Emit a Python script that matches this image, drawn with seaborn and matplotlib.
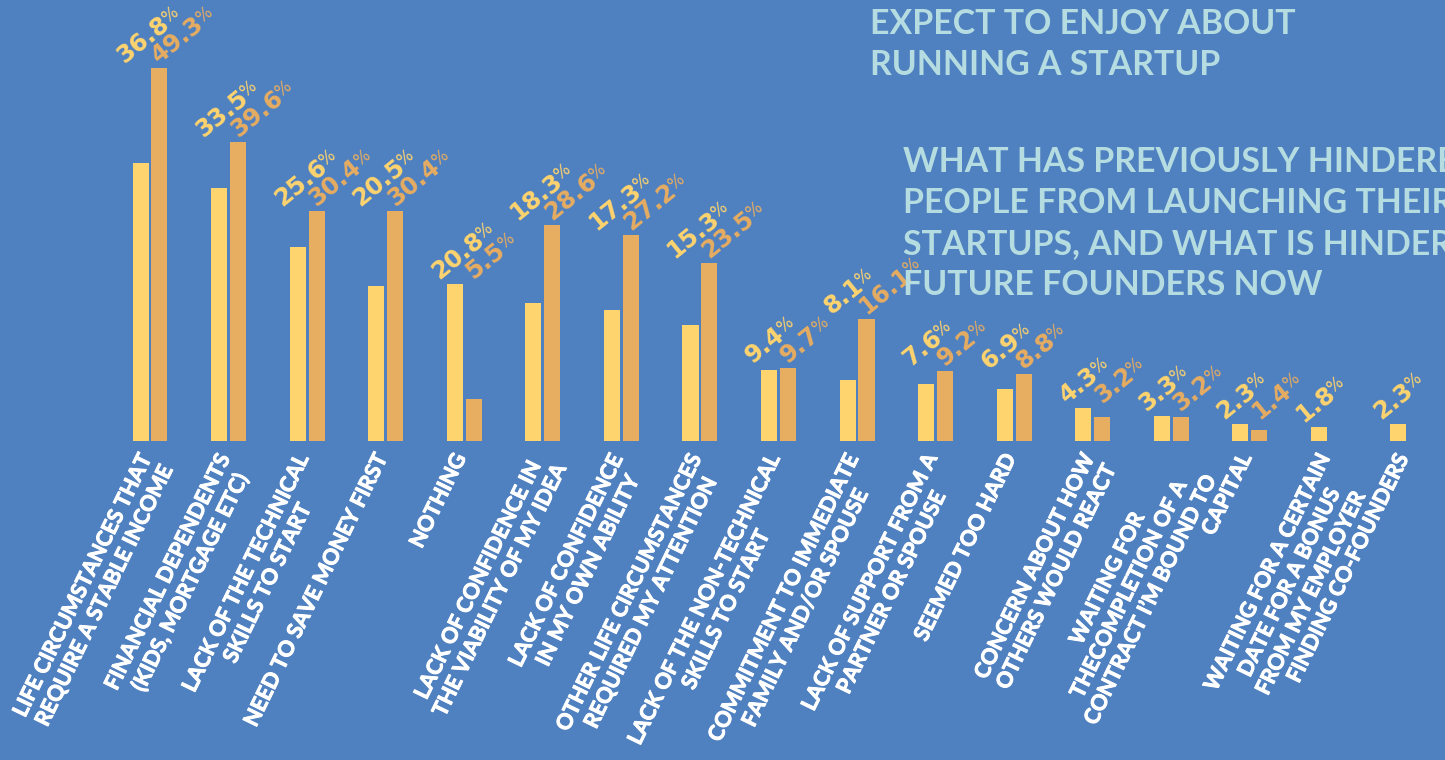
import math

import matplotlib
matplotlib.use("Agg")
import matplotlib.pyplot as plt
import matplotlib.patheffects as pe
import pandas as pd
import seaborn as sns
from matplotlib.font_manager import FontProperties
from matplotlib.textpath import TextToPath
from matplotlib.transforms import offset_copy

# Survey answers: what held founders back before, and what holds future founders back now
reasons = [
    "LIFE CIRCUMSTANCES THAT\nREQUIRE A STABLE INCOME",
    "FINANCIAL DEPENDENTS\n(KIDS, MORTGAGE ETC)",
    "LACK OF THE TECHNICAL\nSKILLS TO START",
    "NEED TO SAVE MONEY FIRST",
    "NOTHING",
    "LACK OF CONFIDENCE IN\nTHE VIABILITY OF MY IDEA",
    "LACK OF CONFIDENCE\nIN MY OWN ABILITY",
    "OTHER LIFE CIRCUMSTANCES\nREQUIRED MY ATTENTION",
    "LACK OF THE NON-TECHNICAL\nSKILLS TO START",
    "COMMITMENT TO IMMEDIATE\nFAMILY AND/OR SPOUSE",
    "LACK OF SUPPORT FROM A\nPARTNER OR SPOUSE",
    "SEEMED TOO HARD",
    "CONCERN ABOUT HOW\nOTHERS WOULD REACT",
    "WAITING FOR\nTHECOMPLETION OF A\nCONTRACT I\u2019M BOUND TO",
    "CAPITAL",
    "WAITING FOR A CERTAIN\nDATE FOR A BONUS\nFROM MY EMPLOYER",
    "FINDING CO-FOUNDERS",
]
founders = [36.8, 33.5, 25.6, 20.5, 20.8, 18.3, 17.3, 15.3, 9.4, 8.1, 7.6, 6.9, 4.3, 3.3, 2.3, 1.8, 2.3]
future_founders = [49.3, 39.6, 30.4, 30.4, 5.5, 28.6, 27.2, 23.5, 9.7, 16.1, 9.2, 8.8, 3.2, 3.2, 1.4, None, None]
groups = ["Founders", "Future founders"]

title_top = "EXPECT TO ENJOY ABOUT\nRUNNING A STARTUP"
title_main = ("WHAT HAS PREVIOUSLY HINDERED\nPEOPLE FROM LAUNCHING THEIR\n"
              "STARTUPS, AND WHAT IS HINDERING\nFUTURE FOUNDERS NOW")

BG = "#4F80C0"
YELLOW = "#FED46E"
ORANGE = "#E7AD61"
TITLE = "#B5DCE0"

sns.set_theme(style="white", rc={"axes.facecolor": BG, "figure.facecolor": BG})
plt.rcParams["font.family"] = ["Lato", "DejaVu Sans"]

rows = []
for reason, a, b in zip(reasons, founders, future_founders):
    rows.append((reason, groups[0], a))
    if b is not None:
        rows.append((reason, groups[1], b))
df = pd.DataFrame(rows, columns=["reason", "group", "share"])

W, H = 1445, 760
fig = plt.figure(figsize=(W / 100, H / 100), dpi=100)
ax = fig.add_axes([0, 0, 1, 1])

sns.barplot(data=df, x="reason", y="share", hue="group", order=reasons, hue_order=groups,
            palette=[YELLOW, ORANGE], width=0.48, gap=0.15, saturation=1,
            errorbar=None, legend=False, linewidth=0, edgecolor="none", ax=ax)

# pixel scale of the category and value axes
PX = 78.5625          # pixels per category step
YS = 7.56             # pixels per percentage point
x0 = -150 / PX
ax.set_xlim(x0, x0 + W / PX)
ax.set_ylim(-(H - 441) / YS, 441 / YS)
ax.set_axis_off()

# value labels: rotated number with a small raised percent sign,
# sitting just above the taller bar of each pair
ANGLE = 39
ca, sa = math.cos(math.radians(ANGLE)), math.sin(math.radians(ANGLE))
num_fp = FontProperties(family="DejaVu Sans", weight="bold", size=17.5)
pct_size = 12
pct_raise = 0.6 * (num_fp.get_size_in_points() - pct_size)
measure = TextToPath()

group_top = {}
for i, (a, b) in enumerate(zip(founders, future_founders)):
    group_top[i] = max(v for v in (a, b) if v is not None)

for container, level, color, shift in zip(ax.containers, groups, [YELLOW, ORANGE], [-16, 0]):
    values = founders if level == groups[0] else future_founders
    for bar in container:
        cx = bar.get_x() + bar.get_width() / 2
        i = int(round(cx))
        v = values[i]
        if v is None:
            continue
        xa, ya = cx + shift / PX, group_top[i] + 4 / YS
        number = f"{v:.1f}"
        ax.text(xa, ya, number, rotation=ANGLE, rotation_mode="anchor", ha="left",
                va="baseline", color=color, fontproperties=num_fp)
        w, _, _ = measure.get_text_width_height_descent(number, num_fp, ismath=False)
        adv = w - 1.5
        pct_trans = offset_copy(ax.transData, fig=fig, units="points",
                                x=adv * ca - pct_raise * sa, y=adv * sa + pct_raise * ca)
        ax.text(xa, ya, "%", transform=pct_trans, rotation=ANGLE, rotation_mode="anchor",
                ha="left", va="baseline", color=color, fontsize=pct_size, family="DejaVu Sans")

# category labels under the bars
for i, reason in enumerate(reasons):
    ax.text(i - 13 / PX, -9 / YS, reason, rotation=64, rotation_mode="anchor",
            ha="right", va="top", multialignment="center", color="white",
            fontsize=15.5, fontweight="bold", linespacing=1.18,
            path_effects=[pe.withStroke(linewidth=0.7, foreground="white")])

fig.text(870 / W, 1 - 8 / H, title_top, ha="left", va="top", color=TITLE,
         fontsize=24.4, fontweight="bold", linespacing=1.34)
fig.text(903 / W, 1 - 146 / H, title_main, ha="left", va="top", color=TITLE,
         fontsize=24.4, fontweight="bold", linespacing=1.34)

fig.savefig("out.png", dpi=100, facecolor=BG)
